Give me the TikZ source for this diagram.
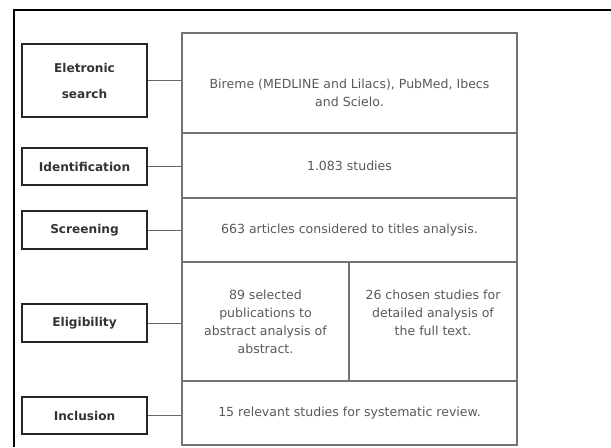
\documentclass[tikz,border=0pt]{standalone}
\usepackage{fontspec}
\setmainfont{DejaVu Sans}
\usetikzlibrary{positioning}

\begin{document}
\begin{tikzpicture}[x=0.75pt,y=-0.75pt,
    stage/.style={draw=black!85, line width=1.3pt, rectangle, minimum width=93.75pt,
      align=center, text=black!80, font=\bfseries\fontsize{9.1}{19.5}\selectfont},
    cell/.style={draw=black!55, line width=0.8pt, rectangle, inner sep=0pt,
      align=center, text=black!65, font=\fontsize{9.4}{13.5}\selectfont},
    link/.style={draw=black!60, line width=0.7pt}]
  \useasboundingbox (0,0) rectangle (611,447);
  \draw[line width=2.2pt] (14,447) -- (14,10) -- (611,10);

  % stages on the left
  \node[stage, minimum height=54.75pt] (search) at (84.5,80.5) {Eletronic\\search};
  \node[stage, minimum height=27.75pt] (ident) at (84.5,166.5) {Identification};
  \node[stage, minimum height=28.5pt] (screen) at (84.5,230) {Screening};
  \node[stage, minimum height=28.5pt] (elig) at (84.5,323) {Eligibility};
  \node[stage, minimum height=27.75pt] (incl) at (84.5,415.5) {Inclusion};

  % table on the right
  \node[cell, minimum width=251.25pt, minimum height=75pt] (bases) at (349.5,83)
    {\rule{0pt}{22pt}Bireme (MEDLINE and Lilacs), PubMed, Ibecs\\and Scielo.};
  \node[cell, minimum width=251.25pt, minimum height=48.75pt] (found) at (349.5,165.5)
    {1.083 studies};
  \node[cell, minimum width=251.25pt, minimum height=48pt] (titles) at (349.5,230)
    {663 articles considered to titles analysis.};
  \node[cell, minimum width=125.25pt, minimum height=89.25pt] (abstr) at (265.5,321.5)
    {89 selected\\publications to\\abstract analysis of\\abstract.};
  \node[cell, minimum width=126pt, minimum height=89.25pt] (fulltext) at (433,321.5)
    {26 chosen studies for\\detailed analysis of\\the full text.\\ \mbox{}};
  \node[cell, minimum width=251.25pt, minimum height=48pt] (review) at (349.5,413)
    {15 relevant studies for systematic review.};

  % connectors
  \draw[link] (search.east) -- (search.east -| bases.west);
  \draw[link] (ident.east) -- (ident.east -| found.west);
  \draw[link] (screen.east) -- (screen.east -| titles.west);
  \draw[link] (elig.east) -- (elig.east -| abstr.west);
  \draw[link] (incl.east) -- (incl.east -| review.west);
\end{tikzpicture}
\end{document}
